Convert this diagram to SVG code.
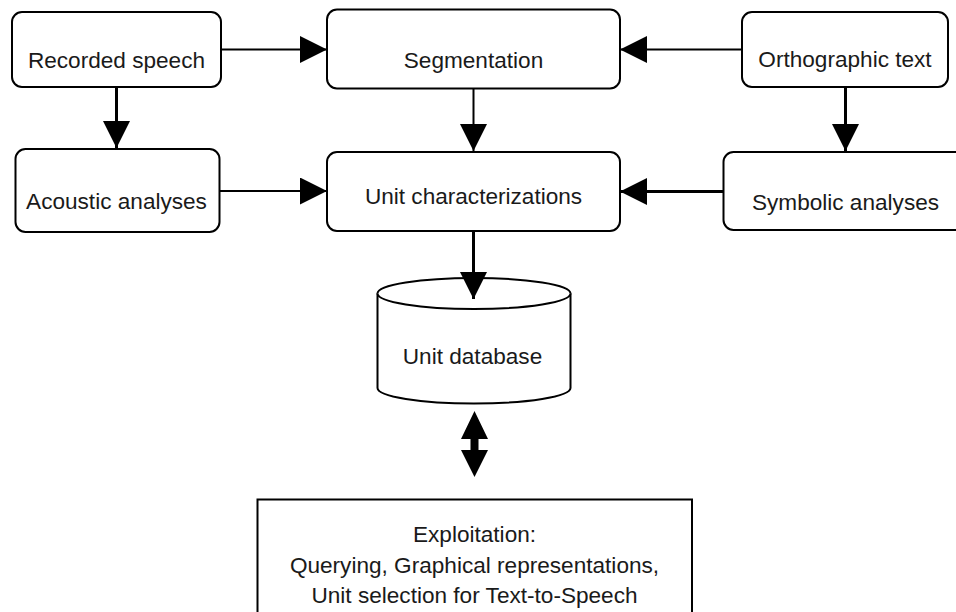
<svg xmlns="http://www.w3.org/2000/svg" width="956" height="612" viewBox="0 0 956 612">
<style>
.box{fill:#fff;stroke:#000;stroke-width:2}
.lbl{font-family:"Liberation Sans",Arial,Helvetica,sans-serif;font-size:22.6px;fill:#1a1a1a;text-anchor:middle}
.c{fill:none;stroke:#000;stroke-width:2}
.ct{fill:none;stroke:#000;stroke-width:3}
</style>
<defs>
<marker id="ah" markerUnits="userSpaceOnUse" markerWidth="28" markerHeight="28" refX="27" refY="13.5" orient="auto" viewBox="0 0 28 28">
<path d="M0,0 L27,13.5 L0,27 Z" fill="#000"/>
</marker>
</defs>
<rect width="956" height="612" fill="#fff"/>
<g id="recorded">
<rect class="box" x="12" y="12" width="209" height="75" rx="10"/>
<text class="lbl" x="116.5" y="68">Recorded speech</text>
</g>
<g id="segmentation">
<rect class="box" x="327" y="9.5" width="293" height="79" rx="10"/>
<text class="lbl" x="473.5" y="67.5">Segmentation</text>
</g>
<g id="orthographic">
<rect class="box" x="742" y="12" width="206" height="75" rx="10"/>
<text class="lbl" x="845" y="67">Orthographic text</text>
</g>
<g id="acoustic">
<rect class="box" x="15.5" y="149" width="204" height="83" rx="10"/>
<text class="lbl" x="116.5" y="208.5">Acoustic analyses</text>
</g>
<g id="unitchar">
<rect class="box" x="327" y="152" width="293" height="79" rx="10"/>
<text class="lbl" x="473.5" y="204">Unit characterizations</text>
</g>
<g id="symbolic">
<rect class="box" x="723.5" y="152" width="260" height="78" rx="10"/>
<text class="lbl" x="845.5" y="209.5">Symbolic analyses</text>
</g>
<g id="database">
<path class="box" d="M377.5,293.5 A96.5,15.5 0 0 1 570.5,293.5 L570.5,388 A96.5,15.5 0 0 1 377.5,388 Z"/>
<path class="box" d="M377.5,293.5 A96.5,15.5 0 0 0 570.5,293.5" fill="none"/>
<text class="lbl" x="472.5" y="364">Unit database</text>
</g>
<g id="exploitation">
<rect class="box" x="257.5" y="499.5" width="434.5" height="140"/>
<text class="lbl" x="474.5" y="542">Exploitation:</text>
<text class="lbl" x="474.5" y="573">Querying, Graphical representations,</text>
<text class="lbl" x="474.5" y="603">Unit selection for Text-to-Speech</text>
</g>
<g id="connectors">
<line class="c" x1="221" y1="49.5" x2="327" y2="49.5" marker-end="url(#ah)"/>
<line class="c" x1="742" y1="49.5" x2="620" y2="49.5" marker-end="url(#ah)"/>
<line class="c" x1="219.5" y1="191" x2="327" y2="191" marker-end="url(#ah)"/>
<line class="ct" x1="723.5" y1="191.5" x2="620" y2="191.5" marker-end="url(#ah)"/>
<line class="ct" x1="116.5" y1="87" x2="116.5" y2="148" marker-end="url(#ah)"/>
<line class="c" x1="473.5" y1="88.5" x2="473.5" y2="151" marker-end="url(#ah)"/>
<line class="ct" x1="845.5" y1="87" x2="845.5" y2="151" marker-end="url(#ah)"/>
<line class="ct" x1="473.5" y1="231" x2="473.5" y2="299" marker-end="url(#ah)"/>
<path d="M474.5,411 L488,439 L478.5,439 L478.5,450 L488,450 L474.5,477 L461,450 L470.5,450 L470.5,439 L461,439 Z" fill="#000"/>
</g>
</svg>
